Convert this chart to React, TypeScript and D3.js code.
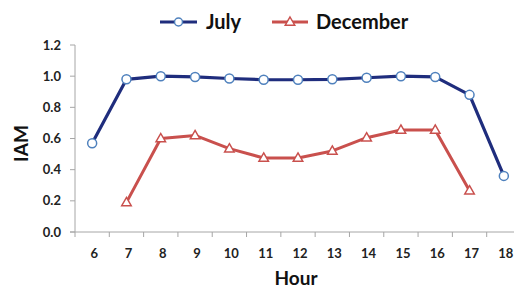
import React from 'react';
import * as d3 from 'd3';

const hours = ['6', '7', '8', '9', '10', '11', '12', '13', '14', '15', '16', '17', '18'];
const july: (number | null)[] = [0.57, 0.98, 1.0, 0.995, 0.985, 0.977, 0.977, 0.98, 0.99, 1.0, 0.995, 0.88, 0.36];
const december: (number | null)[] = [null, 0.19, 0.6, 0.62, 0.535, 0.475, 0.475, 0.52, 0.605, 0.655, 0.655, 0.265, null];
const yTicks = [0, 0.2, 0.4, 0.6, 0.8, 1.0, 1.2];

const W = 514;
const H = 289;
const FONT = 'Lato, "Open Sans", sans-serif';

const App: React.FC = () => {
  const x = d3.scaleBand<string>().domain(hours).range([75, 521]);
  const y = d3.scaleLinear().domain([0, 1.2]).range([232, 45]);
  const cx = (h: string) => (x(h) || 0) + x.bandwidth() / 2;

  const line = d3
    .line<[string, number | null]>()
    .defined(d => d[1] !== null)
    .x(d => cx(d[0]))
    .y(d => y(d[1] as number));

  const julyPts = hours.map((h, i) => [h, july[i]] as [string, number | null]);
  const decPts = hours.map((h, i) => [h, december[i]] as [string, number | null]);

  const tri = (px: number, py: number, s: number) =>
    `M${px},${py - s} L${px + s * 0.95},${py + s * 0.65} L${px - s * 0.95},${py + s * 0.65} Z`;

  const blue = '#1f2d7d';
  const blueMarker = '#4f81bd';
  const red = '#c9504d';

  return (
    <svg width={W} height={H} style={{ position: 'absolute', left: 0, top: 0 }} fontFamily={FONT}>
      <rect width={W} height={H} fill="#fff" />

      {/* legend */}
      <g fontWeight={700} fontSize={20} fill="#111">
        <line x1={160} x2={197} y1={22} y2={22} stroke={blue} strokeWidth={3} />
        <circle cx={178.5} cy={22} r={4} fill="#fff" stroke={blueMarker} strokeWidth={1.5} />
        <text x={206} y={29}>July</text>
        <line x1={272} x2={308} y1={22} y2={22} stroke={red} strokeWidth={3} />
        <path d={tri(290, 22, 5)} fill="#fff" stroke={red} strokeWidth={1.5} />
        <text x={316} y={29}>December</text>
      </g>

      {/* y axis */}
      <line x1={75} x2={75} y1={y(1.2)} y2={y(0)} stroke="#a6a6a6" />
      {yTicks.map(t => (
        <g key={t}>
          <line x1={70} x2={75} y1={y(t)} y2={y(t)} stroke="#a6a6a6" />
          <text x={61} y={y(t) + 4.5} textAnchor="end" fontSize={13} fontWeight={700} fill="#222">
            {t.toFixed(1)}
          </text>
        </g>
      ))}

      {/* x axis */}
      <line x1={70} x2={W} y1={y(0)} y2={y(0)} stroke="#a6a6a6" />
      {hours.map(h => (
        <g key={h}>
          <line x1={x(h)} x2={x(h)} y1={y(0)} y2={y(0) + 5} stroke="#a6a6a6" />
          <text x={cx(h) + 2} y={y(0) + 26} textAnchor="middle" fontSize={13} fontWeight={700} fill="#222">
            {h}
          </text>
        </g>
      ))}

      <text x={296} y={285} textAnchor="middle" fontSize={19} fontWeight={700} fill="#111">Hour</text>
      <text
        transform={`translate(28, ${(y(0) + y(1.2)) / 2 + 5}) rotate(-90)`}
        textAnchor="middle"
        fontSize={19}
        fontWeight={700}
        fill="#111"
      >
        IAM
      </text>

      {/* series */}
      <path d={line(julyPts) || ''} fill="none" stroke={blue} strokeWidth={3.2} strokeLinejoin="round" />
      <path d={line(decPts) || ''} fill="none" stroke={red} strokeWidth={3} strokeLinejoin="round" />
      {julyPts.filter(d => d[1] !== null).map(d => (
        <circle key={d[0]} cx={cx(d[0])} cy={y(d[1] as number)} r={4.5} fill="#fff" stroke={blueMarker} strokeWidth={1.5} />
      ))}
      {decPts.filter(d => d[1] !== null).map(d => (
        <path key={d[0]} d={tri(cx(d[0]), y(d[1] as number), 5)} fill="#fff" stroke={red} strokeWidth={1.5} />
      ))}
    </svg>
  );
};

export default App;
